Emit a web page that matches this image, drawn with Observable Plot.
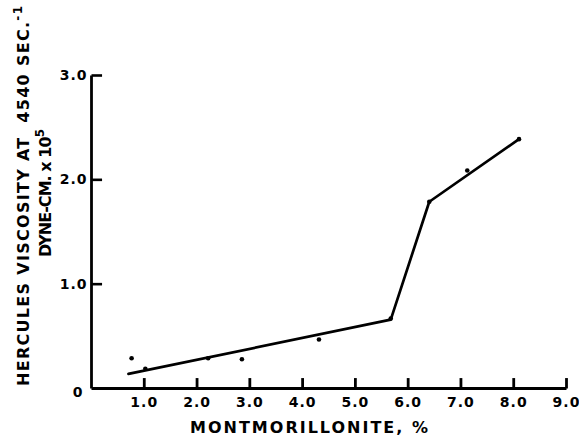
<!DOCTYPE html>
<html>
<head>
<meta charset="utf-8">
<script src="https://cdn.jsdelivr.net/npm/d3@7"></script>
<script src="https://cdn.jsdelivr.net/npm/@observablehq/plot@0.6"></script>
<style>
  html, body { margin: 0; padding: 0; background: #fff; }
  #chart svg { display: block; font-family: "DejaVu Sans", "Liberation Sans", Arial, sans-serif; }
</style>
</head>
<body>
<div id="chart"></div>
<script>
// Measured points (montmorillonite %, viscosity dyne-cm x 10^5)
const pointX = [0.76, 1.02, 2.21, 2.85, 4.31, 5.67, 6.40, 7.12, 8.10];
const pointY = [0.29, 0.19, 0.29, 0.28, 0.47, 0.67, 1.79, 2.09, 2.39];
// Hand-drawn fitted line
const lineX = [0.70, 5.67, 6.40, 8.10];
const lineY = [0.14, 0.66, 1.79, 2.39];
// Ticks
const xTicks = [1, 2, 3, 4, 5, 6, 7, 8, 9];
const xTickLabels = ["1.0", "2.0", "3.0", "4.0", "5.0", "6.0", "7.0", "8.0", "9.0"];
const yTicks = [0, 1, 2, 3];
const yTickLabels = ["0", "1.0", "2.0", "3.0"];

const points = pointX.map((x, i) => ({x, y: pointY[i]}));
const fit = lineX.map((x, i) => ({x, y: lineY[i]}));
const yTicksInner = yTicks.filter(v => v > 0);

const W = 579, H = 439;
const plot = Plot.plot({
  width: W,
  height: H,
  marginLeft: 91,
  marginRight: 13,
  marginTop: 75,
  marginBottom: 51,
  x: {domain: [0, 9], axis: null},
  y: {domain: [0, 3], axis: null},
  style: {background: "#fff", color: "#000"},
  marks: [
    // axis lines
    Plot.link([0], {x1: 0, x2: 9, y1: 0, y2: 0, stroke: "#000", strokeWidth: 2.8}),
    Plot.link([0], {x1: 0, x2: 0, y1: 0, y2: 3, stroke: "#000", strokeWidth: 2.8}),
    // inward ticks
    Plot.link(xTicks, {x1: d => d, x2: d => d, y1: 0, y2: 0.1, stroke: "#000", strokeWidth: 2.8}),
    Plot.link(yTicksInner, {y1: d => d, y2: d => d, x1: 0, x2: 0.2, stroke: "#000", strokeWidth: 2.6}),
    // tick labels
    Plot.text(xTicks, {x: d => d, y: 0, text: (d, i) => xTickLabels[i], dy: 14, fontSize: 14, fontWeight: "bold", fill: "#000"}),
    Plot.text(yTicksInner, {x: 0, y: d => d, text: d => yTickLabels[yTicks.indexOf(d)], dx: -4, textAnchor: "end", fontSize: 14, fontWeight: "bold", fill: "#000"}),
    Plot.text([0], {x: 0, y: 0, text: () => yTickLabels[0], dx: -8, dy: 4, textAnchor: "end", fontSize: 14, fontWeight: "bold", fill: "#000"}),
    // data
    Plot.line(fit, {x: "x", y: "y", stroke: "#000", strokeWidth: 2.7, strokeLinejoin: "round"}),
    Plot.dot(points, {x: "x", y: "y", r: 2.3, fill: "#000", stroke: "none"})
  ]
});

document.getElementById("chart").appendChild(plot);

const svg = d3.select(plot);
svg.selectAll("text").style("letter-spacing", "1px");

// x-axis title
svg.append("text")
  .attr("x", 309).attr("y", 433)
  .attr("text-anchor", "middle")
  .attr("textLength", 238).attr("lengthAdjust", "spacing")
  .style("font-size", "16px").style("font-weight", "bold")
  .attr("fill", "#000")
  .text("MONTMORILLONITE, %");

// y-axis title, line 1
const t1 = svg.append("text")
  .attr("transform", "translate(29,196) rotate(-90)")
  .attr("text-anchor", "middle")
  .attr("textLength", 380).attr("lengthAdjust", "spacing")
  .style("font-size", "16px").style("font-weight", "bold")
  .attr("fill", "#000");
t1.append("tspan").text("HERCULES VISCOSITY AT\u00A0\u00A04540 SEC.");
t1.append("tspan").attr("dy", -7).style("font-size", "12px").text("-1");

// y-axis title, line 2
const t2 = svg.append("text")
  .attr("transform", "translate(51,193) rotate(-90)")
  .attr("text-anchor", "middle")
  .attr("textLength", 128).attr("lengthAdjust", "spacing")
  .style("font-size", "16px").style("font-weight", "bold")
  .attr("fill", "#000");
t2.append("tspan").text("DYNE-CM. x 10");
t2.append("tspan").attr("dy", -7).style("font-size", "12px").text("5");
</script>
</body>
</html>
